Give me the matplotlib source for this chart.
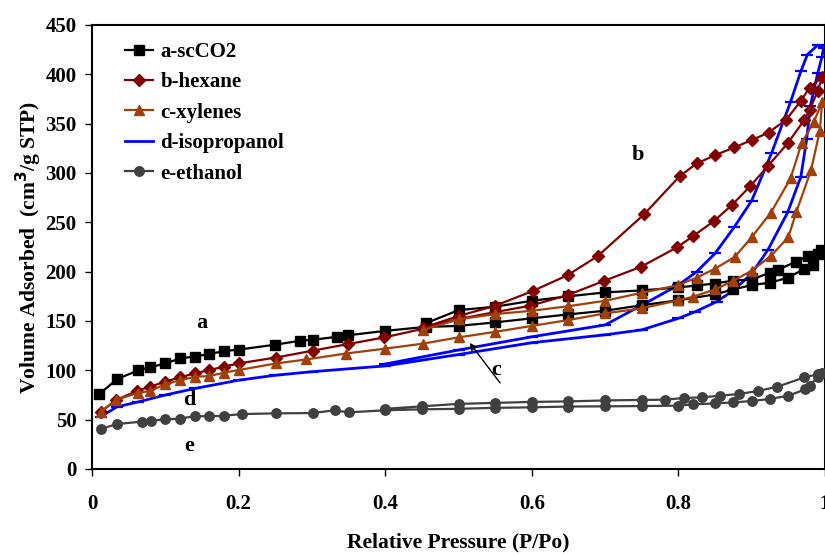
import matplotlib
matplotlib.use("Agg")
import matplotlib.pyplot as plt

# N2 isotherms: adsorption branch followed by desorption branch for each sample
a_x = [0.01, 0.034, 0.063, 0.079, 0.10, 0.12, 0.14, 0.16, 0.18, 0.20, 0.25, 0.284, 0.302,
       0.334, 0.349, 0.40, 0.455, 0.50, 0.55, 0.60, 0.65, 0.70, 0.75, 0.80, 0.85, 0.875,
       0.90, 0.925, 0.95, 0.972, 0.984, 0.995,
       0.99, 0.977, 0.96, 0.936, 0.925, 0.90, 0.875, 0.85, 0.825, 0.80, 0.75, 0.70, 0.65,
       0.60, 0.55, 0.50, 0.455]
a_y = [76, 91, 100, 103, 107, 112, 114, 116.5, 119.5, 121, 126, 130, 131,
       134, 135.5, 140, 144, 145, 148.6, 152.7, 156.7, 160.4, 166, 171, 177, 182,
       186.4, 188.8, 194, 203, 207, 222,
       218, 216, 210, 202, 199, 192, 191, 188, 186, 184, 181, 179, 175,
       170.5, 164.5, 161, 147.6]

b_x = [0.012, 0.033, 0.062, 0.079, 0.10, 0.12, 0.141, 0.16, 0.18, 0.20, 0.251, 0.301,
       0.349, 0.399, 0.451, 0.50, 0.55, 0.598, 0.649, 0.698, 0.749, 0.798, 0.82, 0.849,
       0.873, 0.898, 0.922, 0.949, 0.972, 0.979, 0.99, 0.996,
       0.979, 0.967, 0.947, 0.923, 0.90, 0.876, 0.85, 0.825, 0.802, 0.753, 0.69, 0.649,
       0.601, 0.55, 0.50, 0.451]
b_y = [58, 70, 79.3, 83.4, 88.5, 92.9, 97, 100.3, 103.7, 107, 113, 119.9,
       126.6, 133.4, 142, 152, 159, 165.5, 176.3, 190.5, 205, 224.6, 236, 251.6,
       267.5, 286.7, 307, 330, 354, 364, 383, 397,
       386.6, 373, 354, 341, 333.3, 325.9, 318, 309.7, 296.9, 258, 215.8, 196.5,
       180.3, 165.5, 155, 143]

c_x = [0.012, 0.033, 0.063, 0.079, 0.10, 0.12, 0.141, 0.16, 0.18, 0.20, 0.251, 0.292,
       0.346, 0.40, 0.451, 0.50, 0.55, 0.60, 0.65, 0.70, 0.75, 0.80, 0.82, 0.85, 0.875,
       0.90, 0.926, 0.95, 0.961, 0.981, 0.993, 0.996,
       0.985, 0.968, 0.953, 0.926, 0.90, 0.877, 0.85, 0.825, 0.80, 0.75, 0.70, 0.65,
       0.60, 0.55, 0.50, 0.451]
c_y = [58, 70, 77.3, 79, 86, 90, 93.5, 94.2, 97.6, 100.3, 107, 111,
       117, 122, 127, 133.4, 139, 145, 151, 157.7, 162.8, 171, 174.6, 182, 190.8,
       201, 215.8, 235, 260.7, 303, 343, 372,
       352, 330, 294.5, 259.7, 235, 215, 203, 194, 186.4, 178.6, 170.5, 165,
       160.4, 157, 151.7, 140.8]

d_x = [0.012, 0.034, 0.063, 0.10, 0.141, 0.20, 0.25, 0.30, 0.40, 0.50, 0.60, 0.70, 0.75,
       0.80, 0.823, 0.852, 0.875, 0.90, 0.922, 0.949, 0.967, 0.975, 0.98, 0.99, 0.996,
       0.998,
       0.99, 0.976, 0.967, 0.953, 0.927, 0.90, 0.876, 0.85, 0.825, 0.80, 0.75, 0.70,
       0.60, 0.50, 0.40]
d_y = [53, 63, 68, 75, 81.7, 90, 95, 98.6, 104.5, 116, 128, 136, 141,
       152.7, 159.4, 169.5, 181, 198, 222, 260, 296, 334, 368, 401, 418,
       427,
       429.6, 420, 403, 372, 320, 272, 245, 218.5, 200, 186.4, 166, 146,
       134, 120.6, 106.4]

e_x = [0.012, 0.034, 0.068, 0.08, 0.10, 0.12, 0.141, 0.16, 0.18, 0.205, 0.251, 0.301,
       0.331, 0.35, 0.40, 0.45, 0.50, 0.55, 0.60, 0.65, 0.70, 0.75, 0.80, 0.82, 0.85,
       0.875, 0.90, 0.925, 0.95, 0.973, 0.979, 0.99, 0.996,
       0.991, 0.972, 0.935, 0.908, 0.882, 0.857, 0.832, 0.807, 0.782, 0.75, 0.70, 0.65,
       0.60, 0.55, 0.50, 0.45, 0.40]
e_y = [40.5, 45.6, 48, 49, 50.3, 51, 53.7, 53.4, 54, 55.7, 56.4, 56.7,
       59.5, 57.4, 59.5, 60.5, 61, 62, 62.5, 63.3, 63.5, 63.8, 64.2, 65.5, 66.5,
       67.5, 68.9, 71, 74.3, 80.7, 84, 93.5, 97,
       96.2, 92.9, 83.4, 79, 76, 74.3, 72.6, 72, 70.2, 70, 69.5, 68.5,
       68, 67, 66, 63.5, 61]

labels = ["a-scCO2", "b-hexane", "c-xylenes", "d-isopropanol", "e-ethanol"]
x_ticks = [0, 0.2, 0.4, 0.6, 0.8, 1]
x_tick_labels = ["0", "0.2", "0.4", "0.6", "0.8", "1"]
y_ticks = [0, 50, 100, 150, 200, 250, 300, 350, 400, 450]

plt.rcParams["font.family"] = ["Liberation Serif", "DejaVu Serif"]
plt.rcParams["font.weight"] = "bold"

fig = plt.figure(figsize=(8.25, 5.54), dpi=100)
ax = fig.add_axes([92 / 825, 1 - 469 / 554, (825 - 92) / 825, 444 / 554])

lw = 1.6
ax.plot(a_x, a_y, color="black", lw=lw, marker="s", ms=6.5, label=labels[0], zorder=3)
ax.plot(b_x, b_y, color="#800000", lw=lw, marker="D", ms=5.8, label=labels[1], zorder=3)
ax.plot(c_x, c_y, color="#A0400A", lw=lw, marker="^", ms=7.5, label=labels[2], zorder=3)
ax.plot(d_x, d_y, color="#0000FF", lw=2.0, marker="_", ms=8, mew=1.6, label=labels[3],
        zorder=2)
ax.plot(e_x, e_y, color="#404040", lw=lw, marker="o", ms=6.8, label=labels[4], zorder=3)

ax.set_xlim(0, 0.997)
ax.set_ylim(0, 450)
ax.set_xticks(x_ticks)
ax.set_xticklabels(x_tick_labels)
ax.set_yticks(y_ticks)
ax.tick_params(direction="out", length=5, width=1, labelsize=15)
ax.tick_params(axis="x", pad=13)
ax.tick_params(axis="y", pad=6)
for s in ax.spines.values():
    s.set_linewidth(1.5)

ax.set_xlabel("Relative Pressure (P/Po)", fontsize=15.5, fontweight="bold", labelpad=13)
ax.set_ylabel("Volume Adsorbed  (cm$\\mathbf{^3}$/g STP)", fontsize=15.5,
              fontweight="bold", labelpad=1)

# Legend entries keep the line + marker style; d has no marker in the key
handles, hl = ax.get_legend_handles_labels()
leg = ax.legend(handles, hl, loc="upper left", bbox_to_anchor=(0.045, 0.962),
                frameon=False, fontsize=15, handlelength=1.35, handletextpad=0.35,
                labelspacing=0.5, borderpad=0, borderaxespad=0)
leg.legend_handles[3].set_marker("")

# curve letters
txt = dict(fontsize=16, fontweight="bold", ha="center", va="center")
ax.text(0.15, 148, "a", **txt)
ax.text(0.745, 318, "b", **txt)
ax.text(0.551, 100, "c", **txt)
ax.text(0.133, 70, "d", **txt)
ax.text(0.133, 23, "e", **txt)
ax.annotate("", xy=(0.513, 130), xytext=(0.559, 85),
            arrowprops=dict(arrowstyle="-|>", color="black", lw=1.0,
                            mutation_scale=10))

fig.savefig("out.png", dpi=100)
